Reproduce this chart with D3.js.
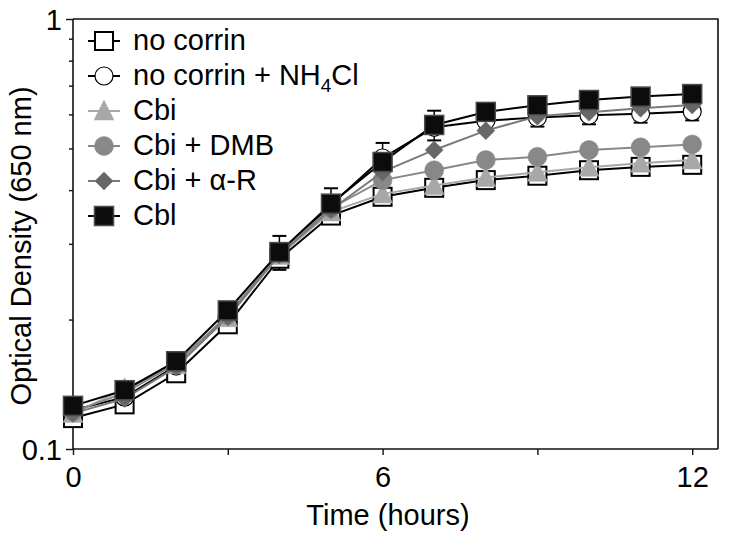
<!DOCTYPE html>
<html><head><meta charset="utf-8">
<script src="https://cdn.jsdelivr.net/npm/d3@7"></script>
<style>
body{margin:0;background:#fff;}
text{font-family:"Liberation Sans",Arial,Helvetica,sans-serif;}
</style></head>
<body><svg id="chart" width="729" height="541"></svg>
<script>
const hours = [0,1,2,3,4,5,6,7,8,9,10,11,12];
const seriesNames = ["no corrin","no corrin + NH4Cl","Cbi","Cbi + DMB","Cbi + α-R","Cbl"];
const noCorrin   = [0.118,0.127,0.150,0.195,0.277,0.349,0.386,0.405,0.422,0.432,0.445,0.453,0.458];
const nh4cl      = [0.123,0.132,0.156,0.203,0.284,0.370,0.475,0.560,0.580,0.590,0.597,0.602,0.609];
const cbi        = [0.121,0.138,0.157,0.202,0.282,0.356,0.392,0.410,0.428,0.440,0.452,0.462,0.470];
const cbiDMB     = [0.122,0.135,0.158,0.205,0.286,0.363,0.422,0.445,0.470,0.478,0.496,0.503,0.511];
const cbiAR      = [0.121,0.131,0.155,0.203,0.283,0.360,0.441,0.496,0.550,0.594,0.607,0.620,0.631];
const cbl        = [0.126,0.137,0.160,0.210,0.287,0.372,0.465,0.567,0.608,0.630,0.648,0.660,0.669];
const nh4clErr   = [0,0,0,0,0,0,0.040,0,0.025,0.028,0.028,0.028,0.028];
const cblErr     = [0,0,0,0,0.026,0.032,0,0.045,0.015,0.015,0.015,0.015,0.015];
const xTicks = [0,3,6,9,12];
const xTickLabels = ["0","","6","","12"];
const yTicks = [0.1,0.2,0.3,0.4,0.5,0.6,0.7,0.8,0.9,1];
const yTickLabels = ["0.1","","","","","","","","","1"];

const FS = 29;
const svg = d3.select("#chart");
const x = d3.scaleLinear().domain([0,12.5]).range([73,718]);
const y = d3.scaleLog().domain([0.1,1]).range([449,19]);

const styles = [
  {vals:noCorrin, err:null, shape:"square", fill:"#ffffff", stroke:"#000", sw:2, line:"#000", size:18},
  {vals:nh4cl, err:nh4clErr, shape:"circle", fill:"#ffffff", stroke:"#000", sw:1.2, line:"#000", size:18},
  {vals:cbi, err:null, shape:"triangle", fill:"#a8a8a8", stroke:"#a8a8a8", sw:0.5, line:"#a8a8a8", size:20},
  {vals:cbiDMB, err:null, shape:"circle", fill:"#888888", stroke:"#888888", sw:0.5, line:"#888888", size:19},
  {vals:cbiAR, err:null, shape:"diamond", fill:"#676767", stroke:"#676767", sw:0.5, line:"#7a7a7a", size:18},
  {vals:cbl, err:cblErr, shape:"square", fill:"#0c0c0c", stroke:"#4a4a4a", sw:1.5, line:"#000", size:19}
];

function drawMarker(g, cx, cy, st){
  const s = st.size, h = s/2;
  let el;
  if(st.shape==="square"){
    el = g.append("rect").attr("x",cx-h).attr("y",cy-h).attr("width",s).attr("height",s);
  } else if(st.shape==="circle"){
    el = g.append("circle").attr("cx",cx).attr("cy",cy).attr("r",h);
  } else if(st.shape==="triangle"){
    el = g.append("path").attr("d",`M${cx},${cy-h-1}L${cx+h},${cy+h-1}L${cx-h},${cy+h-1}Z`);
  } else {
    el = g.append("path").attr("d",`M${cx},${cy-h}L${cx+h},${cy}L${cx},${cy+h}L${cx-h},${cy}Z`);
  }
  el.attr("fill",st.fill).attr("stroke",st.stroke).attr("stroke-width",st.sw);
}

// frame
svg.append("path").attr("d",`M${x(0)},${y(1)}H${x(12.5)}V${y(0.1)}`)
  .attr("fill","none").attr("stroke","#111").attr("stroke-width",1.6);

// axes
const xAxis = d3.axisBottom(x).tickValues(xTicks).tickSize(6).tickPadding(11)
  .tickFormat((d,i)=>xTickLabels[i]);
const gx = svg.append("g").attr("transform",`translate(0,${y(0.1)})`).call(xAxis);
gx.select(".domain").attr("stroke","#111").attr("stroke-width",1.6).attr("d",`M${x(0)},0H${x(12.5)}`);
gx.selectAll(".tick line").attr("stroke","#111").attr("stroke-width",1.4);
gx.selectAll("text").attr("font-size",FS).attr("fill","#000");

const yAxis = d3.axisLeft(y).tickValues(yTicks).tickSize(4).tickPadding(4)
  .tickFormat((d,i)=>yTickLabels[i]);
const gy = svg.append("g").attr("transform",`translate(${x(0)},0)`).call(yAxis);
gy.select(".domain").attr("stroke","#111").attr("stroke-width",1.6).attr("d",`M0,${y(0.1)}V${y(1)}`);
gy.selectAll(".tick line").attr("stroke","#111").attr("stroke-width",1.4)
  .attr("x2",(d,i)=> yTickLabels[i] ? -7 : -4);
gy.selectAll("text").attr("font-size",FS).attr("fill","#000").attr("x",-11).attr("dy","0.36em");

// axis titles
svg.append("text").attr("x",388).attr("y",525).attr("text-anchor","middle")
  .attr("font-size",FS).text("Time (hours)");
svg.append("text").attr("transform","translate(31,246) rotate(-90)").attr("text-anchor","middle")
  .attr("font-size",FS).text("Optical Density (650 nm)");

// error bars
const eg = svg.append("g");
styles.forEach(st=>{
  if(!st.err) return;
  hours.forEach((hh,i)=>{
    const e = st.err[i]; if(!e) return;
    const cx = x(hh), top = y(st.vals[i]+e), bot = y(st.vals[i]-e);
    eg.append("line").attr("x1",cx).attr("x2",cx).attr("y1",top).attr("y2",bot)
      .attr("stroke","#000").attr("stroke-width",1.5);
    [top,bot].forEach(yy=>eg.append("line").attr("x1",cx-7).attr("x2",cx+7).attr("y1",yy).attr("y2",yy)
      .attr("stroke","#000").attr("stroke-width",2));
  });
});

// series
const line = d3.line().x((d,i)=>x(hours[i])).y(d=>y(d));
styles.forEach(st=>{
  const g = svg.append("g");
  g.append("path").attr("d",line(st.vals)).attr("fill","none")
    .attr("stroke",st.line).attr("stroke-width",2);
  st.vals.forEach((v,i)=>drawMarker(g,x(hours[i]),y(v),st));
});

// legend
const lg = svg.append("g");
seriesNames.forEach((name,i)=>{
  const st = styles[i];
  const cy = 41 + i*35;
  lg.append("line").attr("x1",88).attr("x2",120).attr("y1",cy).attr("y2",cy)
    .attr("stroke",st.line).attr("stroke-width",2);
  drawMarker(lg,104,cy,st);
  const t = lg.append("text").attr("x",133).attr("y",cy+9).attr("font-size",FS);
  if(name==="no corrin + NH4Cl"){
    t.append("tspan").text("no corrin + NH");
    t.append("tspan").attr("font-size",19).attr("dy",7).text("4");
    t.append("tspan").attr("dy",-7).text("Cl");
  } else {
    t.text(name);
  }
});
</script></body></html>
